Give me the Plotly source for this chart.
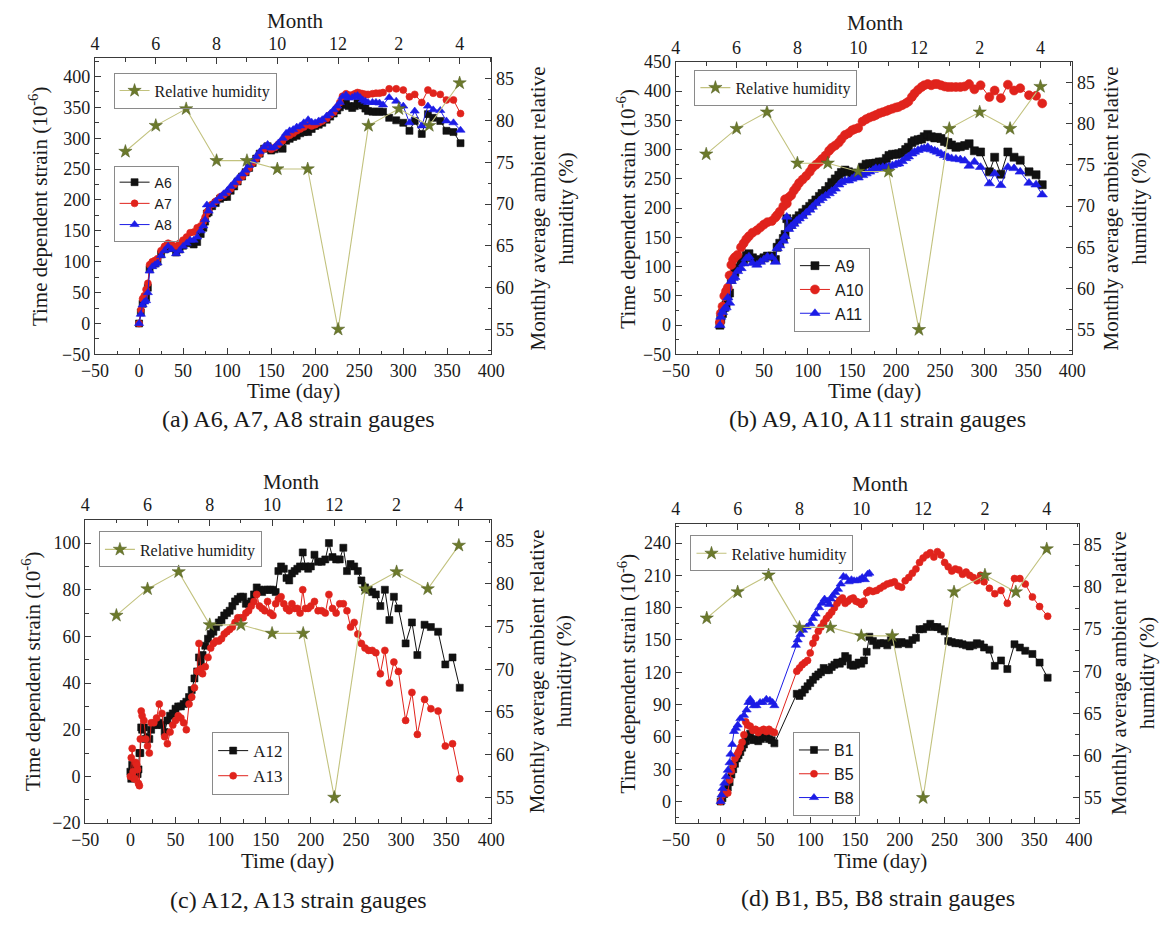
import plotly.graph_objects as go

W, H = 1175, 926
SERIF = "Liberation Serif, Times New Roman, serif"
SANS = "Liberation Sans, Arial, sans-serif"

# ---------------- monthly average ambient relative humidity ----------------
rh_month = [5, 6, 7, 8, 9, 10, 11, 12, 13, 14, 15, 16]
rh_value = [76.3, 79.4, 81.4, 75.2, 75.2, 74.2, 74.2, 55.0, 79.4, 81.4, 79.4, 84.5]
month_tickvals = [4, 6, 8, 10, 12, 14, 16]
month_ticktext = ["4", "6", "8", "10", "12", "2", "4"]
DAYS_PER_MONTH = 34.5   # month scale on the top axis, measured in days

# ---------------- (a) A6, A7, A8 ----------------
days_a = [0, 2, 4, 6, 8, 10, 12, 15, 18, 21,
          25, 29, 33, 37, 42, 46, 50, 54, 58, 62,
          66, 70, 73, 75, 77, 79, 83, 87, 92, 96,
          100, 104, 108, 112, 117, 121, 125, 129, 133, 137,
          142, 146, 150, 154, 158, 163, 167, 171, 175, 179,
          183, 187, 192, 196, 200, 204, 208, 213, 217, 221,
          225, 228, 231, 235, 238, 242, 245, 248, 251, 254,
          257, 260, 265, 269, 273, 277,
          284, 292, 300, 307, 313, 321, 328, 334, 342, 349, 357, 365]
a6 = [0, 18, 32, 38, 42, 58, 88, 95, 97, 100,
      112, 120, 126, 122, 115, 120, 126, 130, 132, 128,
      132, 145, 155, 165, 178, 180, 190, 195, 202, 205,
      205, 215, 222, 230, 238, 245, 252, 260, 267, 275,
      283, 287, 280, 282, 285, 283, 296, 299, 302, 304,
      308, 310, 310, 315, 320, 322, 325, 330, 335, 340,
      345, 350, 354, 357, 352, 349, 352, 357, 355, 353,
      348, 344, 343, 343, 343, 343,
      333, 329, 325, 312, 328, 307, 339, 333, 328, 312, 310, 292]
a7 = [0, 22, 40, 45, 55, 65, 95, 100, 102, 105,
      118, 125, 130, 128, 125, 130, 135, 140, 147, 148,
      155, 158, 165, 172, 180, 183, 193, 198, 205, 208,
      212, 218, 225, 230, 238, 245, 252, 260, 267, 275,
      283, 287, 282, 285, 290, 296, 302, 305, 308, 312,
      315, 318, 322, 320, 322, 325, 328, 332, 338, 342,
      350, 358, 368, 372, 370, 370, 372, 374, 373, 372,
      371, 371, 372, 373, 373, 374,
      380, 380, 378, 367, 371, 358, 378, 373, 371, 362, 362, 340]
a8 = [0, 15, 30, 35, 37, 50, 85, 92, 95, 98,
      110, 118, 125, 120, 113, 118, 125, 130, 135, 135,
      140, 150, 158, 168, 192, 182, 192, 198, 205, 210,
      215, 222, 228, 235, 242, 248, 256, 263, 270, 278,
      286, 290, 284, 286, 292, 300, 308, 312, 314, 318,
      320, 325, 330, 326, 325, 328, 330, 336, 340, 346,
      352, 358, 367, 370, 365, 366, 368, 369, 366, 362,
      360, 358, 358, 358, 357, 354,
      366, 360, 352, 325, 344, 320, 352, 346, 345, 328, 325, 313]

# ---------------- (b) A9, A10, A11 ----------------
days_b = [0, 1, 3, 5, 7, 9, 11, 13, 15, 17,
          20, 24, 27, 30, 33, 37, 42, 46, 50, 54,
          59, 63, 65, 68, 72, 74, 76, 78, 81, 84,
          87, 90, 94, 98, 102, 105, 109, 113, 116, 120,
          124, 127, 131, 135, 138, 142, 146, 150, 153, 157,
          162, 166, 170, 174, 177, 181, 185, 189, 192, 196,
          200, 203, 207, 211, 214, 218, 221, 225, 229, 232,
          236, 240, 244, 247, 251, 255, 259, 263, 268, 273,
          278, 283, 289, 296, 306, 312, 319, 327, 334, 341,
          351, 359, 366]
a9 = [0, 10, 20, 30, 35, 50, 55, 78, 85, 90,
      98, 108, 112, 119, 122, 115, 110, 112, 115, 118,
      118, 112, 133, 140, 148, 155, 182, 168, 172, 177,
      182, 187, 192, 198, 203, 208, 214, 220, 225, 230,
      237, 244, 250, 256, 261, 265, 262, 260, 258, 258,
      270, 275, 276, 276, 277, 279, 279, 285, 290, 292,
      292, 293, 295, 300, 304, 312, 315, 317, 318, 322,
      326, 322, 320, 321, 319, 314, 312, 308, 304, 305,
      307, 310, 298, 296, 262, 287, 258, 296, 287, 282,
      262, 257, 240]
a10 = [5, 20, 32, 50, 58, 64, 85, 103, 112, 116,
       120, 133, 140, 147, 152, 158, 162, 167, 172, 176,
       178, 184, 188, 194, 203, 215, 208, 218, 222, 230,
       236, 243, 249, 255, 262, 269, 274, 279, 284, 290,
       298, 303, 307, 312, 318, 325, 328, 333, 335, 337,
       348, 352, 355, 357, 359, 362, 364, 366, 368, 370,
       372, 373, 376, 379, 382, 390, 396, 402, 407, 410,
       412, 410, 412, 412, 410, 408, 407, 407, 407, 407,
       408, 412, 403, 410, 390, 401, 388, 411, 401, 405,
       393, 392, 379]
a11 = [0, 14, 22, 28, 30, 47, 38, 75, 80, 82,
       92, 97, 105, 114, 117, 106, 103, 108, 112, 117,
       116, 108, 131, 136, 144, 152, 185, 164, 169, 173,
       178, 182, 186, 192, 197, 202, 208, 213, 217, 221,
       225, 229, 233, 240, 244, 247, 247, 250, 253, 252,
       256, 259, 262, 265, 268, 268, 270, 270, 271, 273,
       275, 276, 280, 285, 288, 293, 296, 299, 301, 302,
       304, 300, 298, 296, 293, 290, 287, 285, 284, 283,
       281, 272, 279, 270, 242, 259, 239, 270, 268, 262,
       243, 240, 223]

# ---------------- (c) A12, A13 ----------------
days_c = [0, 1, 2, 3, 4, 5, 6, 7, 8, 9,
          10, 11, 12, 13, 15, 17, 19, 21, 23, 26,
          29, 32, 35, 38, 41, 44, 47, 50, 53, 56,
          59, 62, 65, 68, 71, 74, 76, 78, 80, 83,
          86, 89, 92, 95, 98, 101, 104, 107, 110, 113,
          116, 119, 122, 125, 128, 131, 134, 137, 140, 143,
          146, 149, 152, 155, 158, 161, 164, 167, 170, 173,
          176, 179, 182, 185, 188, 191, 194, 197, 200, 204,
          208, 212, 216, 220, 224, 228, 232, 236, 240, 244,
          248, 252, 256, 260, 264, 268, 272, 277, 282, 287,
          292, 297, 305, 312, 318, 326, 333, 341, 349, 357,
          365]
a12 = [2, -1, 5, 3, 0, 2, 4, 1, 1, 3,
       10, 10, 21, 20, 21, 16, 17, 16, 20, 22,
       22, 23, 22, 19, 24, 26, 27, 29, 30, 30,
       31, 32, 34, 37, 42, 45, 51, 49, 52, 56,
       59, 61, 62, 64, 66, 67, 69, 70, 71, 73,
       75, 76, 77, 77, 74, 74, 75, 78, 81, 80,
       79, 80, 80, 80, 80, 79, 88, 90, 89, 85,
       84, 87, 88, 89, 90, 96, 90, 89, 90, 95,
       92, 92, 93, 100, 94, 93, 93, 98, 88, 91,
       90, 88, 84, 81, 80, 79, 78, 73, 80, 67,
       77, 72, 57, 66, 52, 65, 64, 62, 48, 51,
       38]
a13 = [0, 8, 12, 2, -1, -1, 6, 5, 3, -3,
       -4, 16, 28, 26, 24, 16, 13, 10, 23, 23,
       25, 31, 27, 17, 14, 19, 22, 24, 26, 25,
       23, 20, 31, 34, 38, 45, 57, 46, 44, 47,
       51, 55, 57, 58, 58, 59, 61, 62, 63, 64,
       66, 68, 68, 68, 70, 71, 73, 75, 78, 73,
       72, 71, 75, 70, 69, 74, 76, 77, 74, 72,
       71, 74, 72, 72, 70, 80, 72, 72, 73, 75,
       71, 71, 70, 78, 72, 70, 74, 74, 71, 64,
       66, 61, 57, 55, 54, 54, 53, 44, 54, 40,
       49, 45, 24, 36, 18, 33, 29, 28, 13, 14,
       -1]

# ---------------- (d) B1, B5, B8 ----------------
days_d = [0, 2, 4, 6, 8, 10, 12, 14, 16, 18,
          20, 22, 24, 26, 28, 30, 33, 36, 39, 42,
          45, 48, 51, 54, 57, 60, 85, 88, 91, 94,
          97, 100, 103, 106, 109, 112, 115, 118, 121, 124,
          127, 130, 133, 136, 139, 142, 145, 148, 151, 154,
          157, 160, 163, 166, 170, 174, 178, 182, 186, 190,
          194, 198, 202, 206, 210, 214, 218, 222, 226, 230,
          234, 238, 242, 246, 250, 254, 258, 262, 266, 270,
          274, 278, 282, 286, 290, 294, 300, 306, 313, 320,
          328, 334, 340, 348, 356, 365]
b1 = [0, 3, 7, 10, 13, 18, 25, 30, 35, 40,
      43, 46, 50, 53, 56, 60, 63, 57, 58, 56,
      58, 60, 60, 58, 57, 54, 100, 98, 101, 104,
      107, 110, 113, 116, 118, 120, 124, 122, 122, 125,
      127, 129, 128, 130, 135, 133, 127, 126, 127, 129,
      128, 131, 139, 153, 149, 145, 147, 147, 145, 150,
      148, 146, 148, 147, 146, 150, 152, 160, 160, 162,
      165, 162, 162, 160, 158, 149, 148, 147, 147, 146,
      145, 144, 145, 147, 146, 143, 141, 126, 131, 123,
      146, 143, 140, 137, 129, 115]
b5 = [0, 6, 8, 8, 8, 20, 28, 34, 40, 43,
      46, 50, 55, 62, 74, 71, 70, 66, 67, 64,
      66, 67, 65, 67, 65, 64, 121, 124, 127, 129,
      131, 138, 147, 152, 158, 162, 166, 170, 173, 176,
      180, 184, 187, 189, 184, 186, 188, 189, 186, 185,
      183, 186, 194, 196, 195, 196, 198, 200, 202, 203,
      204, 200, 199, 205, 208, 212, 216, 222, 226, 229,
      231, 227, 232, 229, 222, 218, 214, 216, 215, 211,
      213, 210, 208, 205, 210, 204, 198, 193, 196, 184,
      207, 207, 202, 190, 181, 172]
days_d8 = [0, 1, 2, 4, 6, 8, 10, 11, 13, 15,
           17, 19, 22, 26, 29, 31, 33, 35, 37, 40,
           44, 47, 51, 55, 58, 60, 84, 86, 89, 92,
           96, 100, 103, 106, 110, 113, 116, 119, 121, 123,
           125, 128, 131, 134, 137, 140, 143, 146, 149, 152,
           155, 158, 161, 164, 166]
b8 = [0, 6, 12, 17, 23, 29, 36, 44, 53, 65,
      68, 71, 77, 80, 85, 92, 95, 92, 89, 89,
      92, 92, 95, 94, 92, 89, 145, 150, 155, 159,
      162, 165, 170, 174, 180, 184, 188, 186, 183, 188,
      191, 194, 197, 202, 209, 208, 204, 206, 205, 205,
      206, 208, 206, 211, 212]

BLACK, RED, BLUE = "#111111", "#e0231c", "#1c1ce6"
RH_LINE, RH_MARK = "#c2c27e", "#6c7a2c"
AXIS = "#3a3a3a"


def px(x):
    return x / W


def py(y):
    return 1 - y / H


panels = [
    dict(frame=(83, 489, 49, 352), yrange=[-50, 430], ytick0=-50, ydtick=50,
         caption="(a) A6, A7, A8 strain gauges",
         series=[("A6", days_a, a6, "square", BLACK, 7),
                 ("A7", days_a, a7, "circle", RED, 7),
                 ("A8", days_a, a8, "triangle-up", BLUE, 8)],
         rh_leg=(102, 64), s_leg=(102, 159), s_font=(SANS, 14),
         left_t=(25, 200), right_t=(551, 203), bottom_t=(286, 389),
         top_t=(288, 11), cap=(291, 418)),
    dict(frame=(678, 1084, 53, 352), yrange=[-50, 450], ytick0=-50, ydtick=50,
         caption="(b) A9, A10, A11 strain gauges",
         series=[("A9", days_b, a9, "square", BLACK, 8),
                 ("A10", days_b, a10, "circle", RED, 9),
                 ("A11", days_b, a11, "triangle-up", BLUE, 9)],
         rh_leg=(697, 61), s_leg=(799, 243), s_font=(SANS, 16),
         left_t=(628, 203), right_t=(1138, 203), bottom_t=(881, 389),
         top_t=(883, 13), cap=(885, 418)),
    dict(frame=(73, 489, 521, 831), yrange=[-20, 110], ytick0=-20, ydtick=20,
         caption="(c) A12, A13 strain gauges",
         series=[("A12", days_c, a12, "square", BLACK, 7),
                 ("A13", days_c, a13, "circle", RED, 7)],
         rh_leg=(87, 533), s_leg=(203, 738), s_font=(SERIF, 17),
         left_t=(18, 676), right_t=(549, 676), bottom_t=(280, 870),
         top_t=(284, 482), cap=(291, 910)),
    dict(frame=(678, 1091, 525, 831), yrange=[-20, 258], ytick0=0, ydtick=30,
         caption="(d) B1, B5, B8 strain gauges",
         series=[("B1", days_d, b1, "square", BLACK, 7),
                 ("B5", days_d, b5, "circle", RED, 7),
                 ("B8", days_d8, b8, "triangle-up", BLUE, 8)],
         rh_leg=(693, 537), s_leg=(798, 738), s_font=(SANS, 16),
         left_t=(628, 678), right_t=(1146, 678), bottom_t=(888, 870),
         top_t=(888, 484), cap=(885, 908)),
]

fig = go.Figure()
layout = dict(width=W, height=H, margin=dict(l=0, r=0, t=0, b=0),
              paper_bgcolor="white", plot_bgcolor="white", showlegend=True)
annotations = []

tickfont = dict(family=SERIF, size=18, color="#1a1a1a")
title_font = dict(family=SERIF, size=21, color="#1a1a1a")


def axis_style(**kw):
    d = dict(showline=True, linecolor=AXIS, linewidth=1.3, ticks="inside",
             ticklen=6, tickwidth=1.2, tickcolor=AXIS, showgrid=False,
             zeroline=False, tickfont=tickfont)
    d.update(kw)
    return d


def minor(tick0, dtick):
    return dict(ticks="inside", ticklen=3.5, tickwidth=1, tickcolor=AXIS,
                showgrid=False, tickmode="linear", tick0=tick0, dtick=dtick)


def ax_name(letter, n):
    return letter if n == 1 else f"{letter}{n}"


def ax_key(letter, n):
    return f"{letter}axis" if n == 1 else f"{letter}axis{n}"


def note(text, xy, angle=0, font=title_font):
    annotations.append(dict(text=text, x=px(xy[0]), y=py(xy[1]),
                            xref="paper", yref="paper", showarrow=False,
                            textangle=angle, font=font,
                            xanchor="center", yanchor="middle"))


for i, p in enumerate(panels):
    nb, nt = 2 * i + 1, 2 * i + 2
    xb, xt = ax_name("x", nb), ax_name("x", nt)
    yl, yr = ax_name("y", nb), ax_name("y", nt)
    x0, x1, y0, y1 = p["frame"]
    leg_rh = "legend" if i == 0 else f"legend{2 * i + 1}"
    leg_s = f"legend{2 * i + 2}"

    layout[ax_key("x", nb)] = axis_style(
        domain=[px(x0), px(x1)], range=[-50, 400], anchor=yl, side="bottom",
        tickmode="linear", tick0=-50, dtick=50, minor=minor(-50, 25))
    layout[ax_key("x", nt)] = axis_style(
        overlaying=xb, anchor=yl, side="top",
        range=[4, 4 + 450 / DAYS_PER_MONTH], tickmode="array",
        tickvals=month_tickvals, ticktext=month_ticktext, minor=minor(4, 1))
    layout[ax_key("y", nb)] = axis_style(
        domain=[py(y1), py(y0)], range=p["yrange"], anchor=xb, side="left",
        tickmode="linear", tick0=p["ytick0"], dtick=p["ydtick"],
        minor=minor(p["ytick0"], p["ydtick"] / 2))
    layout[ax_key("y", nt)] = axis_style(
        overlaying=yl, anchor=xb, side="right", range=[52, 87.5],
        tickmode="linear", tick0=55, dtick=5, minor=minor(55, 2.5))

    for name, d, v, sym, col, size in p["series"]:
        fig.add_trace(go.Scatter(
            x=d, y=v, xaxis=xb, yaxis=yl, mode="lines+markers", name=name,
            legend=leg_s,
            line=dict(color=col, width=1),
            marker=dict(symbol=sym, size=size, color=col,
                        line=dict(width=0.6, color=col))))

    fig.add_trace(go.Scatter(
        x=rh_month, y=rh_value, xaxis=xt, yaxis=yr, mode="lines+markers",
        name="Relative humidity", legend=leg_rh,
        line=dict(color=RH_LINE, width=1.1),
        marker=dict(symbol="star", size=10, color=RH_MARK,
                    line=dict(width=0.5, color="#4f5a1e"))))

    legend_common = dict(xanchor="left", yanchor="top", bgcolor="rgba(255,255,255,0)",
                         bordercolor="#8a8a8a", borderwidth=1, itemwidth=30,
                         tracegroupgap=0)
    layout[leg_rh] = dict(x=px(p["rh_leg"][0]), y=py(p["rh_leg"][1]),
                          font=dict(family=SERIF, size=16, color="#1a1a1a"),
                          **legend_common)
    layout[leg_s] = dict(x=px(p["s_leg"][0]), y=py(p["s_leg"][1]),
                         font=dict(family=p["s_font"][0], size=p["s_font"][1],
                                   color="#1a1a1a"),
                         **legend_common)

    note("Time dependent strain (10<sup>-6</sup>)", p["left_t"], -90)
    note("Monthly average ambient relative<br>humidity (%)", p["right_t"], -90)
    note("Time (day)", p["bottom_t"])
    note("Month", p["top_t"])
    note(p["caption"], p["cap"], 0, dict(family=SERIF, size=24, color="#1a1a1a"))

layout["annotations"] = annotations
fig.update_layout(**layout)
fig.write_html("out.html")
